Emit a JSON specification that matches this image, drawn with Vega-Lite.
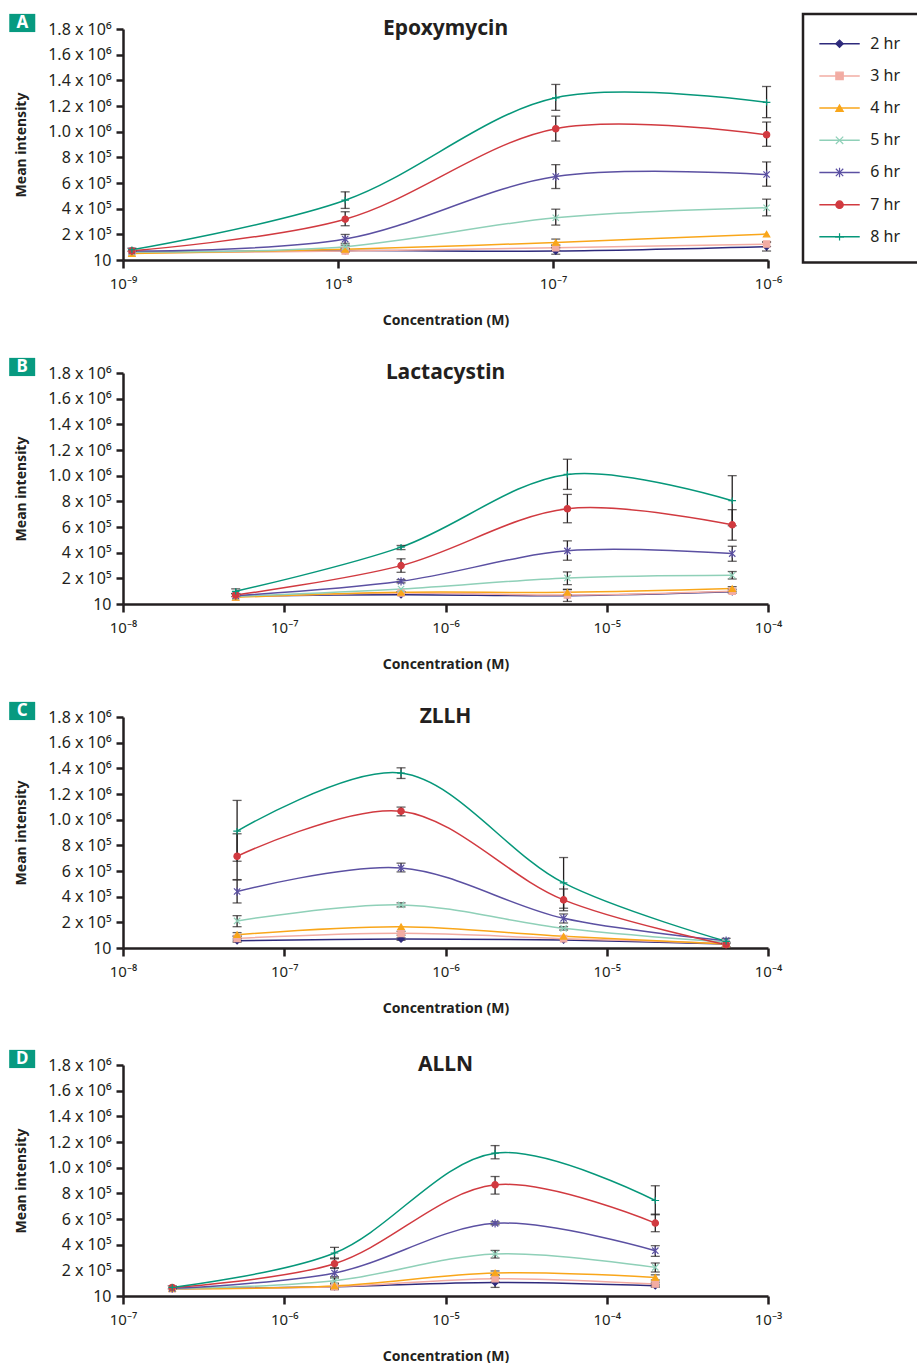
{
  "$schema": "https://vega.github.io/schema/vega-lite/v6.json",
  "background": "white",
  "padding": {"left": 9, "top": 12, "right": 0, "bottom": 0},
  "config": {
    "font": "Noto Sans",
    "view": {"stroke": null},
    "axis": {"labelFont": "Noto Sans", "labelFontSize": 16, "labelColor": "#231f20", "titleFont": "Noto Sans", "titleFontSize": 14, "titleFontWeight": "bold", "titleColor": "#231f20", "domainColor": "#231f20", "domainWidth": 2.5, "tickColor": "#231f20", "tickWidth": 2.5, "grid": false, "labelFlush": false, "labelOverlap": false, "labelBound": false},
    "axisX": {"tickSize": 8, "labelPadding": 8, "titlePadding": 22, "labelFontSize": 15},
    "axisY": {"tickSize": 7, "labelPadding": 5, "titlePadding": 19}
  },
  "datasets": {
    "d": [
      {"p":"A","c":1.1e-9,"s":"2 hr","v":60000},
      {"p":"A","c":1.1e-9,"s":"3 hr","v":55000},
      {"p":"A","c":1.1e-9,"s":"4 hr","v":50000},
      {"p":"A","c":1.1e-9,"s":"5 hr","v":62000},
      {"p":"A","c":1.1e-9,"s":"6 hr","v":70000},
      {"p":"A","c":1.1e-9,"s":"7 hr","v":72000},
      {"p":"A","c":1.1e-9,"s":"8 hr","v":80000,"lo":68000,"hi":92000},
      {"p":"A","c":1.08e-8,"s":"2 hr","v":73000,"lo":62000,"hi":86000},
      {"p":"A","c":1.08e-8,"s":"3 hr","v":70000},
      {"p":"A","c":1.08e-8,"s":"4 hr","v":83000},
      {"p":"A","c":1.08e-8,"s":"5 hr","v":104000,"lo":92000,"hi":116000},
      {"p":"A","c":1.08e-8,"s":"6 hr","v":163000,"lo":130000,"hi":199000},
      {"p":"A","c":1.08e-8,"s":"7 hr","v":318000,"lo":267000,"hi":376000},
      {"p":"A","c":1.08e-8,"s":"8 hr","v":466000,"lo":402000,"hi":531000},
      {"p":"A","c":1.03e-7,"s":"2 hr","v":70000,"lo":45000,"hi":95000},
      {"p":"A","c":1.03e-7,"s":"3 hr","v":96000,"lo":75000,"hi":118000},
      {"p":"A","c":1.03e-7,"s":"4 hr","v":137000,"lo":111000,"hi":163000},
      {"p":"A","c":1.03e-7,"s":"5 hr","v":329000,"lo":272000,"hi":396000},
      {"p":"A","c":1.03e-7,"s":"6 hr","v":650000,"lo":557000,"hi":743000},
      {"p":"A","c":1.03e-7,"s":"7 hr","v":1023000,"lo":927000,"hi":1121000},
      {"p":"A","c":1.03e-7,"s":"8 hr","v":1264000,"lo":1166000,"hi":1368000},
      {"p":"A","c":9.85e-7,"s":"2 hr","v":104000,"lo":70000,"hi":137000},
      {"p":"A","c":9.85e-7,"s":"3 hr","v":124000,"lo":105000,"hi":143000},
      {"p":"A","c":9.85e-7,"s":"4 hr","v":202000},
      {"p":"A","c":9.85e-7,"s":"5 hr","v":407000,"lo":344000,"hi":474000},
      {"p":"A","c":9.85e-7,"s":"6 hr","v":666000,"lo":575000,"hi":764000},
      {"p":"A","c":9.85e-7,"s":"7 hr","v":976000,"lo":886000,"hi":1075000},
      {"p":"A","c":9.85e-7,"s":"8 hr","v":1228000,"lo":1109000,"hi":1352000},

      {"p":"B","c":5.0e-8,"s":"2 hr","v":60000},
      {"p":"B","c":5.0e-8,"s":"3 hr","v":55000},
      {"p":"B","c":5.0e-8,"s":"4 hr","v":52000},
      {"p":"B","c":5.0e-8,"s":"5 hr","v":60000},
      {"p":"B","c":5.0e-8,"s":"6 hr","v":65000},
      {"p":"B","c":5.0e-8,"s":"7 hr","v":70000,"lo":58000,"hi":82000},
      {"p":"B","c":5.0e-8,"s":"8 hr","v":99000,"lo":80000,"hi":118000},
      {"p":"B","c":5.3e-7,"s":"2 hr","v":73000},
      {"p":"B","c":5.3e-7,"s":"3 hr","v":86000,"lo":75000,"hi":97000},
      {"p":"B","c":5.3e-7,"s":"4 hr","v":91000},
      {"p":"B","c":5.3e-7,"s":"5 hr","v":117000},
      {"p":"B","c":5.3e-7,"s":"6 hr","v":177000,"lo":165000,"hi":190000},
      {"p":"B","c":5.3e-7,"s":"7 hr","v":299000,"lo":247000,"hi":352000},
      {"p":"B","c":5.3e-7,"s":"8 hr","v":443000,"lo":424000,"hi":456000},
      {"p":"B","c":5.7e-6,"s":"2 hr","v":65000},
      {"p":"B","c":5.7e-6,"s":"3 hr","v":70000,"lo":20000,"hi":115000},
      {"p":"B","c":5.7e-6,"s":"4 hr","v":91000,"lo":70000,"hi":112000},
      {"p":"B","c":5.7e-6,"s":"5 hr","v":203000,"lo":151000,"hi":250000},
      {"p":"B","c":5.7e-6,"s":"6 hr","v":414000,"lo":341000,"hi":492000},
      {"p":"B","c":5.7e-6,"s":"7 hr","v":742000,"lo":633000,"hi":854000},
      {"p":"B","c":5.7e-6,"s":"8 hr","v":1010000,"lo":893000,"hi":1128000},
      {"p":"B","c":6.0e-5,"s":"2 hr","v":95000},
      {"p":"B","c":6.0e-5,"s":"3 hr","v":100000,"lo":85000,"hi":115000},
      {"p":"B","c":6.0e-5,"s":"4 hr","v":120000,"lo":100000,"hi":135000},
      {"p":"B","c":6.0e-5,"s":"5 hr","v":224000,"lo":195000,"hi":253000},
      {"p":"B","c":6.0e-5,"s":"6 hr","v":393000,"lo":333000,"hi":450000},
      {"p":"B","c":6.0e-5,"s":"7 hr","v":617000,"lo":497000,"hi":735000},
      {"p":"B","c":6.0e-5,"s":"8 hr","v":805000,"lo":610000,"hi":1000000},

      {"p":"C","c":5.1e-8,"s":"2 hr","v":57000,"lo":45000,"hi":70000},
      {"p":"C","c":5.1e-8,"s":"3 hr","v":75000,"lo":55000,"hi":95000},
      {"p":"C","c":5.1e-8,"s":"4 hr","v":104000,"lo":88000,"hi":120000},
      {"p":"C","c":5.1e-8,"s":"5 hr","v":211000,"lo":166000,"hi":252000},
      {"p":"C","c":5.1e-8,"s":"6 hr","v":440000,"lo":351000,"hi":530000},
      {"p":"C","c":5.1e-8,"s":"7 hr","v":715000,"lo":533000,"hi":890000},
      {"p":"C","c":5.1e-8,"s":"8 hr","v":910000,"lo":676000,"hi":1150000},
      {"p":"C","c":5.3e-7,"s":"2 hr","v":70000,"lo":60000,"hi":80000},
      {"p":"C","c":5.3e-7,"s":"3 hr","v":114000,"lo":100000,"hi":130000},
      {"p":"C","c":5.3e-7,"s":"4 hr","v":166000},
      {"p":"C","c":5.3e-7,"s":"5 hr","v":336000,"lo":320000,"hi":352000},
      {"p":"C","c":5.3e-7,"s":"6 hr","v":624000,"lo":593000,"hi":661000},
      {"p":"C","c":5.3e-7,"s":"7 hr","v":1066000,"lo":1030000,"hi":1098000},
      {"p":"C","c":5.3e-7,"s":"8 hr","v":1363000,"lo":1321000,"hi":1404000},
      {"p":"C","c":5.4e-6,"s":"2 hr","v":62000},
      {"p":"C","c":5.4e-6,"s":"3 hr","v":73000},
      {"p":"C","c":5.4e-6,"s":"4 hr","v":91000},
      {"p":"C","c":5.4e-6,"s":"5 hr","v":153000,"lo":140000,"hi":166000},
      {"p":"C","c":5.4e-6,"s":"6 hr","v":231000,"lo":195000,"hi":265000},
      {"p":"C","c":5.4e-6,"s":"7 hr","v":375000,"lo":290000,"hi":460000},
      {"p":"C","c":5.4e-6,"s":"8 hr","v":507000,"lo":310000,"hi":705000},
      {"p":"C","c":5.5e-5,"s":"2 hr","v":31000},
      {"p":"C","c":5.5e-5,"s":"3 hr","v":36000},
      {"p":"C","c":5.5e-5,"s":"4 hr","v":31000},
      {"p":"C","c":5.5e-5,"s":"5 hr","v":44000},
      {"p":"C","c":5.5e-5,"s":"6 hr","v":57000,"lo":35000,"hi":75000},
      {"p":"C","c":5.5e-5,"s":"7 hr","v":26000,"lo":10000,"hi":45000},
      {"p":"C","c":5.5e-5,"s":"8 hr","v":52000},

      {"p":"D","c":2.02e-7,"s":"2 hr","v":57000},
      {"p":"D","c":2.02e-7,"s":"3 hr","v":57000},
      {"p":"D","c":2.02e-7,"s":"4 hr","v":57000},
      {"p":"D","c":2.02e-7,"s":"5 hr","v":57000},
      {"p":"D","c":2.02e-7,"s":"6 hr","v":60000},
      {"p":"D","c":2.02e-7,"s":"7 hr","v":67000},
      {"p":"D","c":2.02e-7,"s":"8 hr","v":67000,"lo":55000,"hi":80000},
      {"p":"D","c":2.05e-6,"s":"2 hr","v":73000,"lo":50000,"hi":100000},
      {"p":"D","c":2.05e-6,"s":"3 hr","v":73000},
      {"p":"D","c":2.05e-6,"s":"4 hr","v":78000,"lo":60000,"hi":95000},
      {"p":"D","c":2.05e-6,"s":"5 hr","v":119000,"lo":95000,"hi":140000},
      {"p":"D","c":2.05e-6,"s":"6 hr","v":179000,"lo":150000,"hi":218000},
      {"p":"D","c":2.05e-6,"s":"7 hr","v":252000,"lo":218000,"hi":290000},
      {"p":"D","c":2.05e-6,"s":"8 hr","v":335000,"lo":296000,"hi":379000},
      {"p":"D","c":2.03e-5,"s":"2 hr","v":106000,"lo":67000,"hi":140000},
      {"p":"D","c":2.03e-5,"s":"3 hr","v":135000,"lo":110000,"hi":160000},
      {"p":"D","c":2.03e-5,"s":"4 hr","v":179000,"lo":165000,"hi":195000},
      {"p":"D","c":2.03e-5,"s":"5 hr","v":327000,"lo":296000,"hi":355000},
      {"p":"D","c":2.03e-5,"s":"6 hr","v":566000,"lo":555000,"hi":578000},
      {"p":"D","c":2.03e-5,"s":"7 hr","v":866000,"lo":794000,"hi":931000},
      {"p":"D","c":2.03e-5,"s":"8 hr","v":1113000,"lo":1069000,"hi":1172000},
      {"p":"D","c":2.0e-4,"s":"2 hr","v":80000,"lo":68000,"hi":92000},
      {"p":"D","c":2.0e-4,"s":"3 hr","v":93000,"lo":78000,"hi":108000},
      {"p":"D","c":2.0e-4,"s":"4 hr","v":145000,"lo":125000,"hi":165000},
      {"p":"D","c":2.0e-4,"s":"5 hr","v":223000,"lo":187000,"hi":257000},
      {"p":"D","c":2.0e-4,"s":"6 hr","v":353000,"lo":309000,"hi":392000},
      {"p":"D","c":2.0e-4,"s":"7 hr","v":568000,"lo":501000,"hi":638000},
      {"p":"D","c":2.0e-4,"s":"8 hr","v":744000,"lo":633000,"hi":859000}
    ],
    "leg": [{"s":"2 hr"},{"s":"3 hr"},{"s":"4 hr"},{"s":"5 hr"},{"s":"6 hr"},{"s":"7 hr"},{"s":"8 hr"}]
  },
  "spacing": 34,
  "vconcat": [
    {
      "spacing": 30,
      "vconcat": [
        {
          "spacing": 19,
          "hconcat": [
            {
              "width": 645, "height": 231,
              "data": {"name": "d"},
              "encoding": {
                "x": {"field": "c", "type": "quantitative", "title": "Concentration (M)", "scale": {"type": "log", "domain": [1e-9, 1e-6]}, "axis": {"values": [1e-9, 1e-8, 1e-7, 1e-6], "labelExpr": "'10⁻' + ['⁰','¹','²','³','⁴','⁵','⁶','⁷','⁸','⁹'][round(-log(datum.value)/LN10)]"}},
                "y": {"field": "v", "type": "quantitative", "title": "Mean intensity", "scale": {"domain": [0, 1800000], "nice": false}, "axis": {"values": [0,200000,400000,600000,800000,1000000,1200000,1400000,1600000,1800000], "labelExpr": "datum.value == 0 ? '10' : datum.value < 1000000 ? format(datum.value/100000, 'd') + ' x 10⁵' : format(datum.value/1000000, '.1f') + ' x 10⁶'"}}
              },
              "layer": [
                {"transform": [{"filter": "datum.p === 'A'"}], "mark": {"type": "line", "interpolate": "catmull-rom", "strokeWidth": 1.5}, "encoding": {"color": {"field": "s", "type": "nominal", "legend": null, "scale": {"domain": ["2 hr","3 hr","4 hr","5 hr","6 hr","7 hr","8 hr"], "range": ["#2e2a7c","#f2aca3","#f9a61a","#8fd0b8","#5b50a2","#d13a40","#06977a"]}}}},
                {"transform": [{"filter": "datum.p === 'A' && isValid(datum.lo)"}], "mark": {"type": "errorbar", "ticks": true, "size": 9, "thickness": 1.3, "color": "#231f20"}, "encoding": {"y": {"field": "lo", "type": "quantitative", "title": "Mean intensity"}, "y2": {"field": "hi"}}},
                {"transform": [{"filter": "datum.p === 'A'"}], "mark": {"type": "point", "filled": true, "size": 40, "opacity": 1, "strokeWidth": 1.2}, "encoding": {
                  "shape": {"field": "s", "type": "nominal", "legend": null, "scale": {"domain": ["2 hr","3 hr","4 hr","5 hr","6 hr","7 hr","8 hr"], "range": ["diamond","square","triangle-up","M-1,-1L1,1M-1,1L1,-1","M-1,-1L1,1M-1,1L1,-1M0,-1.3L0,1.3","circle","M-1.2,0L1.2,0M0,-1L0,1"]}},
                  "fill": {"field": "s", "type": "nominal", "legend": null, "scale": {"domain": ["2 hr","3 hr","4 hr","5 hr","6 hr","7 hr","8 hr"], "range": ["#2e2a7c","#f2aca3","#f9a61a","#8fd0b8","#5b50a2","#d13a40","#06977a"]}},
                  "stroke": {"field": "s", "type": "nominal", "legend": null, "scale": {"domain": ["2 hr","3 hr","4 hr","5 hr","6 hr","7 hr","8 hr"], "range": ["#2e2a7c","#f2aca3","#f9a61a","#8fd0b8","#5b50a2","#d13a40","#06977a"]}}}},
                {"transform": [{"filter": "datum.p === 'A' && datum.s === '2 hr' && datum.c === 1.1e-9"}], "mark": {"type": "point", "shape": "M-1,-0.7L1,-0.7L1,0.7L-1,0.7Z", "size": 676, "filled": true, "color": "#079a80", "opacity": 1, "strokeWidth": 0}, "encoding": {"x": {"datum": 3.4e-10, "type": "quantitative"}, "y": {"datum": 1847000, "type": "quantitative"}}},
                {"transform": [{"filter": "datum.p === 'A' && datum.s === '2 hr' && datum.c === 1.1e-9"}], "mark": {"type": "text", "color": "white", "fontWeight": "bold", "fontSize": 17, "baseline": "middle", "align": "center", "text": "A"}, "encoding": {"x": {"datum": 3.4e-10, "type": "quantitative"}, "y": {"datum": 1847000, "type": "quantitative"}}},
                {"transform": [{"filter": "datum.p === 'A' && datum.s === '2 hr' && datum.c === 1.1e-9"}], "mark": {"type": "text", "fontSize": 21, "fontWeight": "bold", "color": "#231f20", "baseline": "middle", "align": "center", "text": "Epoxymycin"}, "encoding": {"x": {"datum": 3.162e-8, "type": "quantitative"}, "y": {"datum": 1800000, "type": "quantitative"}}}
              ]
            },
            {
              "width": 125, "height": 234,
              "resolve": {"scale": {"y": "independent"}},
              "layer": [
                {"data": {"name": "leg"}, "transform": [{"filter": "datum.s === '2 hr'"}], "mark": {"type": "rect", "fill": null, "stroke": "#231f20", "strokeWidth": 2.5}, "encoding": {"x": {"datum": 0, "type": "quantitative", "scale": {"domain": [0, 125]}, "axis": null}, "x2": {"datum": 140}, "y": {"datum": -15, "type": "quantitative", "scale": {"domain": [0, 234], "reverse": true}, "axis": null}, "y2": {"datum": 233.5}}},
                {"data": {"name": "leg"},
                 "encoding": {"y": {"field": "s", "type": "nominal", "scale": {"type": "point", "padding": 0.634, "align": 0.36}, "axis": null}},
                 "layer": [
                  {"mark": {"type": "rule", "strokeWidth": 1.5}, "encoding": {"x": {"datum": 17, "type": "quantitative"}, "x2": {"datum": 59}, "color": {"field": "s", "type": "nominal", "legend": null, "scale": {"domain": ["2 hr","3 hr","4 hr","5 hr","6 hr","7 hr","8 hr"], "range": ["#2e2a7c","#f2aca3","#f9a61a","#8fd0b8","#5b50a2","#d13a40","#06977a"]}}}},
                  {"mark": {"type": "point", "filled": true, "size": 55, "opacity": 1, "strokeWidth": 1.2}, "encoding": {"x": {"datum": 38, "type": "quantitative"},
                    "shape": {"field": "s", "type": "nominal", "legend": null, "scale": {"domain": ["2 hr","3 hr","4 hr","5 hr","6 hr","7 hr","8 hr"], "range": ["diamond","square","triangle-up","M-1,-1L1,1M-1,1L1,-1","M-1,-1L1,1M-1,1L1,-1M0,-1.3L0,1.3","circle","M-1.2,0L1.2,0M0,-1L0,1"]}},
                    "fill": {"field": "s", "type": "nominal", "legend": null, "scale": {"domain": ["2 hr","3 hr","4 hr","5 hr","6 hr","7 hr","8 hr"], "range": ["#2e2a7c","#f2aca3","#f9a61a","#8fd0b8","#5b50a2","#d13a40","#06977a"]}},
                    "stroke": {"field": "s", "type": "nominal", "legend": null, "scale": {"domain": ["2 hr","3 hr","4 hr","5 hr","6 hr","7 hr","8 hr"], "range": ["#2e2a7c","#f2aca3","#f9a61a","#8fd0b8","#5b50a2","#d13a40","#06977a"]}}}},
                  {"mark": {"type": "text", "align": "left", "baseline": "middle", "fontSize": 16, "color": "#231f20"}, "encoding": {"x": {"datum": 70, "type": "quantitative"}, "text": {"field": "s"}}}
                ]}
              ]
            }
          ]
        },
        {
          "width": 645, "height": 231,
          "data": {"name": "d"},
          "encoding": {
            "x": {"field": "c", "type": "quantitative", "title": "Concentration (M)", "scale": {"type": "log", "domain": [1e-8, 1e-4]}, "axis": {"values": [1e-8, 1e-7, 1e-6, 1e-5, 1e-4], "labelExpr": "'10⁻' + ['⁰','¹','²','³','⁴','⁵','⁶','⁷','⁸','⁹'][round(-log(datum.value)/LN10)]"}},
            "y": {"field": "v", "type": "quantitative", "title": "Mean intensity", "scale": {"domain": [0, 1800000], "nice": false}, "axis": {"values": [0,200000,400000,600000,800000,1000000,1200000,1400000,1600000,1800000], "labelExpr": "datum.value == 0 ? '10' : datum.value < 1000000 ? format(datum.value/100000, 'd') + ' x 10⁵' : format(datum.value/1000000, '.1f') + ' x 10⁶'"}}
          },
          "layer": [
            {"transform": [{"filter": "datum.p === 'B'"}], "mark": {"type": "line", "interpolate": "catmull-rom", "strokeWidth": 1.5}, "encoding": {"color": {"field": "s", "type": "nominal", "legend": null, "scale": {"domain": ["2 hr","3 hr","4 hr","5 hr","6 hr","7 hr","8 hr"], "range": ["#2e2a7c","#f2aca3","#f9a61a","#8fd0b8","#5b50a2","#d13a40","#06977a"]}}}},
            {"transform": [{"filter": "datum.p === 'B' && isValid(datum.lo)"}], "mark": {"type": "errorbar", "ticks": true, "size": 9, "thickness": 1.3, "color": "#231f20"}, "encoding": {"y": {"field": "lo", "type": "quantitative", "title": "Mean intensity"}, "y2": {"field": "hi"}}},
            {"transform": [{"filter": "datum.p === 'B'"}], "mark": {"type": "point", "filled": true, "size": 40, "opacity": 1, "strokeWidth": 1.2}, "encoding": {
              "shape": {"field": "s", "type": "nominal", "legend": null, "scale": {"domain": ["2 hr","3 hr","4 hr","5 hr","6 hr","7 hr","8 hr"], "range": ["diamond","square","triangle-up","M-1,-1L1,1M-1,1L1,-1","M-1,-1L1,1M-1,1L1,-1M0,-1.3L0,1.3","circle","M-1.2,0L1.2,0M0,-1L0,1"]}},
              "fill": {"field": "s", "type": "nominal", "legend": null, "scale": {"domain": ["2 hr","3 hr","4 hr","5 hr","6 hr","7 hr","8 hr"], "range": ["#2e2a7c","#f2aca3","#f9a61a","#8fd0b8","#5b50a2","#d13a40","#06977a"]}},
              "stroke": {"field": "s", "type": "nominal", "legend": null, "scale": {"domain": ["2 hr","3 hr","4 hr","5 hr","6 hr","7 hr","8 hr"], "range": ["#2e2a7c","#f2aca3","#f9a61a","#8fd0b8","#5b50a2","#d13a40","#06977a"]}}}},
            {"transform": [{"filter": "datum.p === 'B' && datum.s === '2 hr' && datum.c === 5.0e-8"}], "mark": {"type": "point", "shape": "M-1,-0.7L1,-0.7L1,0.7L-1,0.7Z", "size": 676, "filled": true, "color": "#079a80", "opacity": 1, "strokeWidth": 0}, "encoding": {"x": {"datum": 2.37e-9, "type": "quantitative"}, "y": {"datum": 1847000, "type": "quantitative"}}},
            {"transform": [{"filter": "datum.p === 'B' && datum.s === '2 hr' && datum.c === 5.0e-8"}], "mark": {"type": "text", "color": "white", "fontWeight": "bold", "fontSize": 17, "baseline": "middle", "align": "center", "text": "B"}, "encoding": {"x": {"datum": 2.37e-9, "type": "quantitative"}, "y": {"datum": 1847000, "type": "quantitative"}}},
            {"transform": [{"filter": "datum.p === 'B' && datum.s === '2 hr' && datum.c === 5.0e-8"}], "mark": {"type": "text", "fontSize": 21, "fontWeight": "bold", "color": "#231f20", "baseline": "middle", "align": "center", "text": "Lactacystin"}, "encoding": {"x": {"datum": 1e-6, "type": "quantitative"}, "y": {"datum": 1800000, "type": "quantitative"}}}
          ]
        },
        {
          "width": 645, "height": 231,
          "data": {"name": "d"},
          "encoding": {
            "x": {"field": "c", "type": "quantitative", "title": "Concentration (M)", "scale": {"type": "log", "domain": [1e-8, 1e-4]}, "axis": {"values": [1e-8, 1e-7, 1e-6, 1e-5, 1e-4], "labelExpr": "'10⁻' + ['⁰','¹','²','³','⁴','⁵','⁶','⁷','⁸','⁹'][round(-log(datum.value)/LN10)]"}},
            "y": {"field": "v", "type": "quantitative", "title": "Mean intensity", "scale": {"domain": [0, 1800000], "nice": false}, "axis": {"values": [0,200000,400000,600000,800000,1000000,1200000,1400000,1600000,1800000], "labelExpr": "datum.value == 0 ? '10' : datum.value < 1000000 ? format(datum.value/100000, 'd') + ' x 10⁵' : format(datum.value/1000000, '.1f') + ' x 10⁶'"}}
          },
          "layer": [
            {"transform": [{"filter": "datum.p === 'C'"}], "mark": {"type": "line", "interpolate": "catmull-rom", "strokeWidth": 1.5}, "encoding": {"color": {"field": "s", "type": "nominal", "legend": null, "scale": {"domain": ["2 hr","3 hr","4 hr","5 hr","6 hr","7 hr","8 hr"], "range": ["#2e2a7c","#f2aca3","#f9a61a","#8fd0b8","#5b50a2","#d13a40","#06977a"]}}}},
            {"transform": [{"filter": "datum.p === 'C' && isValid(datum.lo)"}], "mark": {"type": "errorbar", "ticks": true, "size": 9, "thickness": 1.3, "color": "#231f20"}, "encoding": {"y": {"field": "lo", "type": "quantitative", "title": "Mean intensity"}, "y2": {"field": "hi"}}},
            {"transform": [{"filter": "datum.p === 'C'"}], "mark": {"type": "point", "filled": true, "size": 40, "opacity": 1, "strokeWidth": 1.2}, "encoding": {
              "shape": {"field": "s", "type": "nominal", "legend": null, "scale": {"domain": ["2 hr","3 hr","4 hr","5 hr","6 hr","7 hr","8 hr"], "range": ["diamond","square","triangle-up","M-1,-1L1,1M-1,1L1,-1","M-1,-1L1,1M-1,1L1,-1M0,-1.3L0,1.3","circle","M-1.2,0L1.2,0M0,-1L0,1"]}},
              "fill": {"field": "s", "type": "nominal", "legend": null, "scale": {"domain": ["2 hr","3 hr","4 hr","5 hr","6 hr","7 hr","8 hr"], "range": ["#2e2a7c","#f2aca3","#f9a61a","#8fd0b8","#5b50a2","#d13a40","#06977a"]}},
              "stroke": {"field": "s", "type": "nominal", "legend": null, "scale": {"domain": ["2 hr","3 hr","4 hr","5 hr","6 hr","7 hr","8 hr"], "range": ["#2e2a7c","#f2aca3","#f9a61a","#8fd0b8","#5b50a2","#d13a40","#06977a"]}}}},
            {"transform": [{"filter": "datum.p === 'C' && datum.s === '2 hr' && datum.c === 5.1e-8"}], "mark": {"type": "point", "shape": "M-1,-0.7L1,-0.7L1,0.7L-1,0.7Z", "size": 676, "filled": true, "color": "#079a80", "opacity": 1, "strokeWidth": 0}, "encoding": {"x": {"datum": 2.37e-9, "type": "quantitative"}, "y": {"datum": 1847000, "type": "quantitative"}}},
            {"transform": [{"filter": "datum.p === 'C' && datum.s === '2 hr' && datum.c === 5.1e-8"}], "mark": {"type": "text", "color": "white", "fontWeight": "bold", "fontSize": 17, "baseline": "middle", "align": "center", "text": "C"}, "encoding": {"x": {"datum": 2.37e-9, "type": "quantitative"}, "y": {"datum": 1847000, "type": "quantitative"}}},
            {"transform": [{"filter": "datum.p === 'C' && datum.s === '2 hr' && datum.c === 5.1e-8"}], "mark": {"type": "text", "fontSize": 21, "fontWeight": "bold", "color": "#231f20", "baseline": "middle", "align": "center", "text": "ZLLH"}, "encoding": {"x": {"datum": 1e-6, "type": "quantitative"}, "y": {"datum": 1800000, "type": "quantitative"}}}
          ]
        }
      ]
    },
    {
      "width": 645, "height": 231,
      "data": {"name": "d"},
      "encoding": {
        "x": {"field": "c", "type": "quantitative", "title": "Concentration (M)", "scale": {"type": "log", "domain": [1e-7, 1e-3]}, "axis": {"values": [1e-7, 1e-6, 1e-5, 1e-4, 1e-3], "labelExpr": "'10⁻' + ['⁰','¹','²','³','⁴','⁵','⁶','⁷','⁸','⁹'][round(-log(datum.value)/LN10)]"}},
        "y": {"field": "v", "type": "quantitative", "title": "Mean intensity", "scale": {"domain": [0, 1800000], "nice": false}, "axis": {"values": [0,200000,400000,600000,800000,1000000,1200000,1400000,1600000,1800000], "labelExpr": "datum.value == 0 ? '10' : datum.value < 1000000 ? format(datum.value/100000, 'd') + ' x 10⁵' : format(datum.value/1000000, '.1f') + ' x 10⁶'"}}
      },
      "layer": [
        {"transform": [{"filter": "datum.p === 'D'"}], "mark": {"type": "line", "interpolate": "catmull-rom", "strokeWidth": 1.5}, "encoding": {"color": {"field": "s", "type": "nominal", "legend": null, "scale": {"domain": ["2 hr","3 hr","4 hr","5 hr","6 hr","7 hr","8 hr"], "range": ["#2e2a7c","#f2aca3","#f9a61a","#8fd0b8","#5b50a2","#d13a40","#06977a"]}}}},
        {"transform": [{"filter": "datum.p === 'D' && isValid(datum.lo)"}], "mark": {"type": "errorbar", "ticks": true, "size": 9, "thickness": 1.3, "color": "#231f20"}, "encoding": {"y": {"field": "lo", "type": "quantitative", "title": "Mean intensity"}, "y2": {"field": "hi"}}},
        {"transform": [{"filter": "datum.p === 'D'"}], "mark": {"type": "point", "filled": true, "size": 40, "opacity": 1, "strokeWidth": 1.2}, "encoding": {
          "shape": {"field": "s", "type": "nominal", "legend": null, "scale": {"domain": ["2 hr","3 hr","4 hr","5 hr","6 hr","7 hr","8 hr"], "range": ["diamond","square","triangle-up","M-1,-1L1,1M-1,1L1,-1","M-1,-1L1,1M-1,1L1,-1M0,-1.3L0,1.3","circle","M-1.2,0L1.2,0M0,-1L0,1"]}},
          "fill": {"field": "s", "type": "nominal", "legend": null, "scale": {"domain": ["2 hr","3 hr","4 hr","5 hr","6 hr","7 hr","8 hr"], "range": ["#2e2a7c","#f2aca3","#f9a61a","#8fd0b8","#5b50a2","#d13a40","#06977a"]}},
          "stroke": {"field": "s", "type": "nominal", "legend": null, "scale": {"domain": ["2 hr","3 hr","4 hr","5 hr","6 hr","7 hr","8 hr"], "range": ["#2e2a7c","#f2aca3","#f9a61a","#8fd0b8","#5b50a2","#d13a40","#06977a"]}}}},
        {"transform": [{"filter": "datum.p === 'D' && datum.s === '2 hr' && datum.c === 2.02e-7"}], "mark": {"type": "point", "shape": "M-1,-0.7L1,-0.7L1,0.7L-1,0.7Z", "size": 676, "filled": true, "color": "#079a80", "opacity": 1, "strokeWidth": 0}, "encoding": {"x": {"datum": 2.37e-8, "type": "quantitative"}, "y": {"datum": 1847000, "type": "quantitative"}}},
        {"transform": [{"filter": "datum.p === 'D' && datum.s === '2 hr' && datum.c === 2.02e-7"}], "mark": {"type": "text", "color": "white", "fontWeight": "bold", "fontSize": 17, "baseline": "middle", "align": "center", "text": "D"}, "encoding": {"x": {"datum": 2.37e-8, "type": "quantitative"}, "y": {"datum": 1847000, "type": "quantitative"}}},
        {"transform": [{"filter": "datum.p === 'D' && datum.s === '2 hr' && datum.c === 2.02e-7"}], "mark": {"type": "text", "fontSize": 21, "fontWeight": "bold", "color": "#231f20", "baseline": "middle", "align": "center", "text": "ALLN"}, "encoding": {"x": {"datum": 1e-5, "type": "quantitative"}, "y": {"datum": 1800000, "type": "quantitative"}}}
      ]
    }
  ]
}
